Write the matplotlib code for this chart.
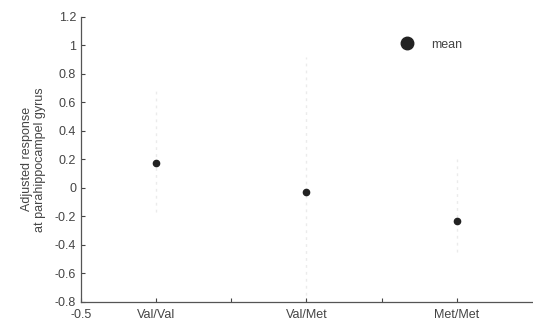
import numpy as np
import matplotlib
matplotlib.use('Agg')
import matplotlib.pyplot as plt

groups = ['Val/Val', 'Val/Met', 'Met/Met']
xpos = [0, 1, 2]
means = [0.175, -0.03, -0.235]
upper = [0.69, 0.92, 0.20]
lower = [-0.17, -0.80, -0.45]

yticks = [-0.8, -0.6, -0.4, -0.2, 0, 0.2, 0.4, 0.6, 0.8, 1, 1.2]
xticks = [-0.5, 0, 0.5, 1, 1.5, 2]
xticklabels = ['-0.5', 'Val/Val', '', 'Val/Met', '', 'Met/Met']

plt.rcParams['font.family'] = ['Liberation Sans', 'DejaVu Sans']

fig = plt.figure(figsize=(5.33, 3.25), dpi=100)
ax = fig.add_axes([0.152, 0.071, 0.86, 0.877])

for x, lo, hi in zip(xpos, lower, upper):
    ax.plot([x, x], [lo, hi], color='#ebebeb', lw=1.0, ls=(0, (2, 3)), zorder=1)

ax.plot(xpos, means, 'o', color='#222222', ms=4.5, ls='none', zorder=3)
ax.plot([], [], 'o', color='#222222', ms=9, ls='none', label='mean')

leg = ax.legend(loc='center left', bbox_to_anchor=(0.66, 0.902), frameon=False,
                fontsize=9, handletextpad=0.9, labelcolor='#444444')

ax.set_xlim(-0.5, 2.55)
ax.set_ylim(-0.8, 1.2)
ax.set_yticks(yticks)
ax.set_yticklabels(['%g' % v for v in yticks])
ax.set_xticks(xticks)
ax.set_xticklabels(xticklabels)
ax.tick_params(direction='in', length=3, labelsize=9, colors='#444444', width=0.8)
ax.tick_params(axis='x', pad=5)
for s in ['top', 'right']:
    ax.spines[s].set_visible(False)
for s in ['left', 'bottom']:
    ax.spines[s].set_color('#555555')
    ax.spines[s].set_linewidth(0.9)

ax.set_ylabel('Adjusted response\nat parahippocampel gyrus', fontsize=9, color='#444444',
              labelpad=6, linespacing=1.2)

fig.savefig('out.png', dpi=100)
